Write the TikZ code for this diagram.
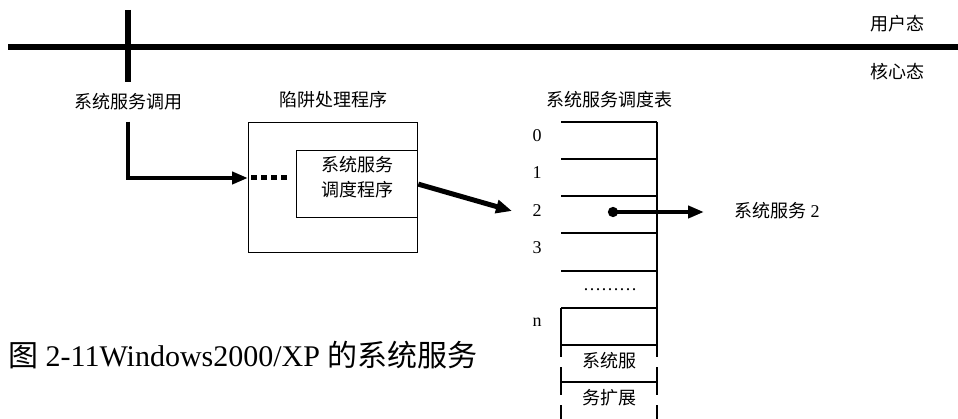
\documentclass[tikz,border=0pt]{standalone}
\usepackage{fontspec}
\setmainfont{Liberation Serif}
\newfontfamily\cjk{Noto Sans CJK SC}
\usetikzlibrary{arrows.meta,calc}
\tikzset{
	lbl/.style={inner sep=0pt,font=\fontsize{18}{25}\selectfont},
	bar/.style={line width=5.5pt},
	flow/.style={line width=4pt,-{Triangle[length=16pt,width=12pt]}},
	box/.style={draw,line width=1.3pt,inner sep=0pt,anchor=north west},
	row/.style={line width=1.3pt}
}

\begin{document}
\begin{tikzpicture}[x=1pt,y=-1pt]
	\useasboundingbox (0,0) rectangle (958,419);
	% user / kernel mode
	\coordinate (ml) at (8,47);
	\coordinate (mr) at (958,47);
	\draw[bar] (ml) -- (mr);
	\node[lbl] (user) at (897,24) {\cjk 用户态};
	\node[lbl] (kern) at (897,72) {\cjk 核心态};
	% system call
	\coordinate (ctop) at (128,10);
	\node[lbl,minimum height=39pt] (call) at (128,102) {\cjk 系统服务调用};
	\draw[bar] (ctop) -- (call.north);
	% trap handler
	\node[lbl] (traplbl) at (333,100) {\cjk 陷阱处理程序};
	\node[box,minimum width=169pt,minimum height=130pt] (trap) at (248,122) {};
	\node[box,minimum width=121pt,minimum height=67pt] (disp) at (296,150) {};
	\node[lbl,align=center] (disptxt) at (357,177) {\cjk 系统服务\\\cjk 调度程序};
	\coordinate (entry) at (248,178);
	\draw[flow] (call.south) |- (entry);
	\draw[line width=5pt,dash pattern=on 6pt off 4pt,shorten <=3pt,shorten >=7pt] (entry) -- (disp.west |- entry);
	% dispatch table
	\node[lbl] (tbl) at (609,100) {\cjk 系统服务调度表};
	\foreach \y in {122,159,196,233,271,308,345,382}
		\draw[row] (561,\y) -- (657,\y);
	\foreach \x in {561,657} {
		\draw[row] (\x,367) -- (\x,395);
		\draw[row] (\x,405) -- (\x,419);
	}
	\draw[row] (657,122) -- (657,357);
	\draw[row] (561,308) -- (561,357);
	\foreach \i/\y in {0/136,1/173,2/211,3/248,n/322}
		\node[lbl] (idx\i) at (537,\y) {\i};
	\node[lbl] (gap) at (610,290) {………};
	\node[lbl] (ext1) at (609,361) {\cjk 系统服};
	\node[lbl] (ext2) at (609,398) {\cjk 务扩展};
	% dispatch to slot 2
	\coordinate (slot) at (512,211);
	\draw[line width=5pt,-{Triangle[length=16pt,width=13pt]}] (disp.east) -- (slot);
	\coordinate (s2dot) at (608,212);
	\node[lbl,anchor=west] (svc) at (734,211) {{\cjk 系统服务} 2};
	\draw[line width=4pt,{Circle[length=10pt]}-{Triangle[length=16pt,width=12pt]},shorten >=30pt] (s2dot) -- (svc.west |- s2dot);
	% caption
	\node[anchor=west,inner sep=0pt,font=\fontsize{30}{32}\selectfont] (cap) at (8,355) {{\cjk 图} 2-11Windows2000/XP {\cjk 的系统服务}};
\end{tikzpicture}
\end{document}
